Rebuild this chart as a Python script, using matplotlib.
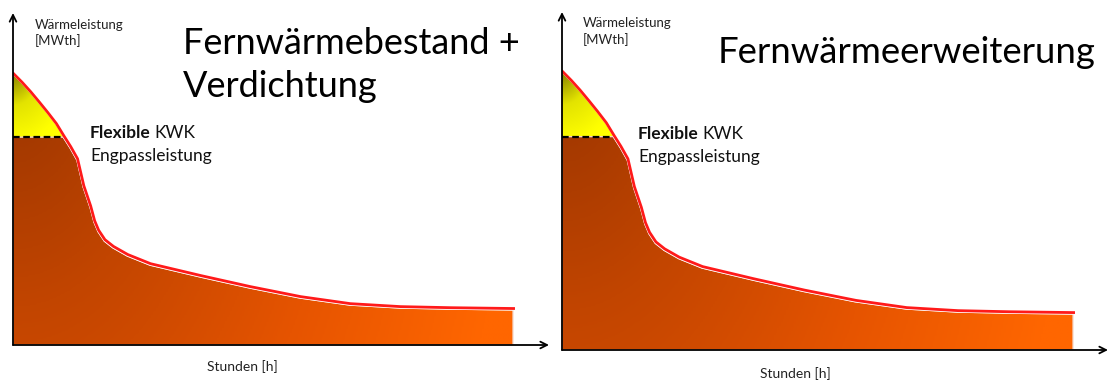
import numpy as np
import matplotlib.pyplot as plt
from matplotlib.colors import LinearSegmentedColormap
from matplotlib.patches import Polygon
from matplotlib import transforms

plt.rcParams['font.family'] = ['Lato', 'DejaVu Sans']

# geordnete Jahresdauerlinie: Stunden vs. Waermeleistung in % der Spitzenlast
hours = [0, 150, 300, 450, 600, 750, 880, 1000, 1120, 1230, 1350, 1420, 1490,
         1600, 1750, 2000, 2400, 3280, 4150, 5030, 5900, 6780, 7660, 8760]
load = [100, 96.8, 93.3, 89.5, 85.6, 81.5, 77, 73, 68.5, 58.5, 51, 45.5, 42,
        38.5, 36, 33, 29.6, 25.2, 21.1, 17.4, 14.8, 13.7, 13.3, 13]
engpass = 77  # flexible KWK Engpassleistung

titles = [['Fernwärmebestand +', 'Verdichtung'], ['Fernwärmeerweiterung']]
y_label = ['Wärmeleistung', '[MWth]']
x_label = 'Stunden [h]'

W, H = 1109, 383
fig = plt.figure(figsize=(W / 100, H / 100), dpi=100)
fig.patch.set_facecolor('white')


def px(x, y):
    return x / W, 1 - y / H


load_cmap = LinearSegmentedColormap.from_list(
    'last', [(0, '#9a3500'), (0.3, '#c24500'), (0.65, '#e65400'), (1, '#ff6600')])
peak_cmap = LinearSegmentedColormap.from_list(
    'spitze', [(0, '#8c8600'), (0.45, '#e3e300'), (1, '#ffff00')])


def draw_panel(ax, xmax, ymax):
    ax.set_axis_off()
    h = np.array(hours, dtype=float)
    p = np.array(load, dtype=float)
    k = hours.index(next(x for x, v in zip(hours, load) if v <= engpass))

    # Grundlast unterhalb der Engpassleistung
    base = [(0, 0), (0, engpass)] + list(zip(h[k:], p[k:])) + [(h[-1], 0)]
    base_patch = Polygon(base, closed=True, facecolor='none', edgecolor='none')
    ax.add_patch(base_patch)
    gx, gy = np.meshgrid(np.linspace(0, 1, 300), np.linspace(0, 1, 200))
    t = np.clip(np.sqrt(gx ** 2 + (0.35 * (1 - gy)) ** 2), 0, 1)
    im = ax.imshow(t, cmap=load_cmap, extent=(0, h[-1], 0, p[0]), origin='lower',
                   aspect='auto', interpolation='bilinear', vmin=0, vmax=1)
    im.set_clip_path(base_patch)
    ax.add_patch(Polygon(base, closed=True, facecolor='none',
                         edgecolor='#f4d6c8', lw=0.9))

    # Spitzenlast oberhalb der Engpassleistung
    peak = list(zip(h[:k + 1], p[:k + 1])) + [(0, engpass)]
    peak_patch = Polygon(peak, closed=True, facecolor='none', edgecolor='none')
    ax.add_patch(peak_patch)
    sx, sy = np.meshgrid(np.linspace(0, 1, 100), np.linspace(0, 1, 100))
    s = np.clip(np.sqrt(sx ** 2 + (1 - sy) ** 2) / 1.1, 0, 1)
    im2 = ax.imshow(s, cmap=peak_cmap, extent=(0, h[k], engpass, p[0]),
                    origin='lower', aspect='auto', interpolation='bilinear',
                    vmin=0, vmax=1)
    im2.set_clip_path(peak_patch)

    ax.plot([0, h[k]], [engpass, engpass], color='black', lw=1.6,
            dashes=(3, 1.6), solid_capstyle='butt')

    # Dauerlinie: roter Rand mit heller Kante darunter
    ax.plot(h[k:], p[k:], color='white', lw=1.0)
    shift = transforms.offset_copy(ax.transData, fig=fig, x=0.6, y=1.4, units='dots')
    ax.plot(h, p, color='#ff1a1a', lw=2.0, transform=shift, solid_joinstyle='round')

    ax.set_xlim(0, xmax)
    ax.set_ylim(0, ymax)

    arrow = dict(arrowstyle='->', lw=1.3, color='black', mutation_scale=12,
                 shrinkA=0, shrinkB=0)
    ax.annotate('', xy=(1, 0), xytext=(0, 0), xycoords='axes fraction',
                arrowprops=arrow, annotation_clip=False)
    ax.annotate('', xy=(0, 1), xytext=(0, 0), xycoords='axes fraction',
                arrowprops=arrow, annotation_clip=False)


ax1 = fig.add_axes([13 / W, 38 / H, 536 / W, 332 / H])
draw_panel(ax1, 9391, 123)
ax2 = fig.add_axes([562 / W, 33 / H, 546 / W, 338 / H])
draw_panel(ax2, 9360, 122)


def labels(ax, x0, ylab, flex, stunden):
    fig.text(*px(x0, ylab[0]), y_label[0], fontsize=9.5, va='baseline', color='#222222')
    fig.text(*px(x0, ylab[1]), y_label[1], fontsize=9.5, va='baseline', color='#222222')
    t1 = fig.text(*px(flex[0], flex[1]), 'Flexible', fontsize=12.5,
                  fontweight='bold', va='baseline', color='#111111')
    ax.annotate('KWK', xy=(1, 0), xycoords=t1, xytext=(2.8, 0),
                textcoords='offset points', fontsize=12.5, va='bottom',
                ha='left', color='#111111', annotation_clip=False)
    fig.text(*px(flex[0], flex[1] + 23), 'Engpassleistung', fontsize=12.5,
             va='baseline', color='#111111')
    fig.text(*px(stunden[0], stunden[1]), x_label, fontsize=10, ha='center',
             va='center', color='#222222')


labels(ax1, 35, (29, 45), (90, 138), (242, 367))
labels(ax2, 583, (27, 44), (638, 139), (795, 374))

fig.text(*px(183, 54), titles[0][0], fontsize=26, va='baseline', color='black')
fig.text(*px(183, 97), titles[0][1], fontsize=26, va='baseline', color='black')
fig.text(*px(718, 63), titles[1][0], fontsize=26.3, va='baseline', color='black')

fig.savefig('out.png', dpi=100, facecolor='white')
